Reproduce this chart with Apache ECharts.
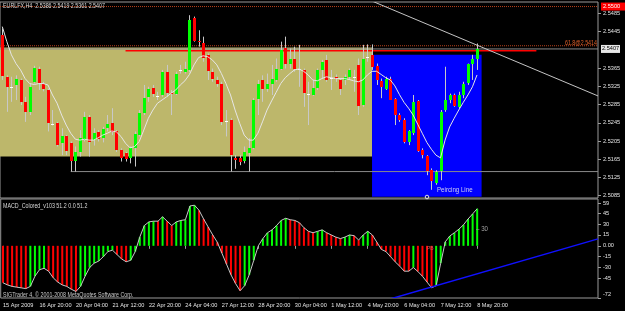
<!DOCTYPE html>
<html>
<head>
<meta charset="utf-8">
<script src="https://cdn.jsdelivr.net/npm/echarts@6/dist/echarts.min.js"></script>
<style>
  html, body { margin: 0; padding: 0; background: #000; }
  #chart { width: 625px; height: 311px; }
</style>
</head>
<body>
<div id="chart"></div>
<script>
// EURLFX H4, 15 Apr 2009 12:00 .. 8 May 2009 20:00, one entry per bar (105 bars)
const tickLabels = ['15 Apr 2009', '16 Apr 20:00', '20 Apr 04:00', '21 Apr 12:00', '22 Apr 20:00',
  '24 Apr 04:00', '27 Apr 12:00', '28 Apr 20:00', '30 Apr 04:00', '1 May 12:00', '4 May 20:00',
  '6 May 04:00', '7 May 12:00', '8 May 20:00'];
const priceTicks = [2.5485, 2.5445, 2.5365, 2.5325, 2.5285, 2.5245, 2.5205, 2.5165, 2.5125, 2.5085];
const macdTicks = [59, 45, 30, 15, 0, -15, -30, -45, -72];

const openP = [
  2.5437, 2.5346, 2.5324, 2.5328, 2.5339, 2.5291, 2.5269, 2.5335, 2.5362, 2.5331,
  2.5317, 2.5243, 2.5244, 2.5200, 2.5215, 2.5200, 2.5160, 2.5181, 2.5207, 2.5258,
  2.5207, 2.5224, 2.5212, 2.5233, 2.5245, 2.5226, 2.5185, 2.5178, 2.5167, 2.5189,
  2.5218, 2.5266, 2.5301, 2.5322, 2.5304, 2.5306, 2.5356, 2.5311, 2.5310, 2.5360,
  2.5357, 2.5361, 2.5475, 2.5424, 2.5421, 2.5394, 2.5357, 2.5339, 2.5331, 2.5250,
  2.5251, 2.5168, 2.5167, 2.5160, 2.5180, 2.5189, 2.5299, 2.5339, 2.5320, 2.5329,
  2.5339, 2.5364, 2.5408, 2.5375, 2.5386, 2.5362, 2.5361, 2.5309, 2.5307, 2.5322,
  2.5361, 2.5383, 2.5344, 2.5346, 2.5339, 2.5339, 2.5346, 2.5346, 2.5372, 2.5284,
  2.5389, 2.5394, 2.5370, 2.5337, 2.5320, 2.5342, 2.5297, 2.5263, 2.5251, 2.5202,
  2.5222, 2.5293, 2.5185, 2.5173, 2.5141, 2.5114, 2.5139, 2.5273, 2.5295, 2.5306,
  2.5280, 2.5306, 2.5331, 2.5373, 2.5386];
const closeP = [
  2.5346, 2.5324, 2.5324, 2.5342, 2.5291, 2.5269, 2.5324, 2.5366, 2.5331, 2.5320,
  2.5244, 2.5243, 2.5196, 2.5215, 2.5181, 2.5160, 2.5180, 2.5211, 2.5258, 2.5204,
  2.5222, 2.5209, 2.5231, 2.5242, 2.5226, 2.5185, 2.5167, 2.5165, 2.5189, 2.5220,
  2.5266, 2.5299, 2.5319, 2.5308, 2.5304, 2.5357, 2.5310, 2.5308, 2.5353, 2.5360,
  2.5363, 2.5470, 2.5424, 2.5421, 2.5388, 2.5358, 2.5341, 2.5331, 2.5247, 2.5250,
  2.5174, 2.5163, 2.5158, 2.5180, 2.5190, 2.5295, 2.5331, 2.5320, 2.5330, 2.5340,
  2.5364, 2.5405, 2.5372, 2.5386, 2.5363, 2.5362, 2.5310, 2.5309, 2.5322, 2.5361,
  2.5379, 2.5339, 2.5344, 2.5341, 2.5319, 2.5346, 2.5361, 2.5346, 2.5282, 2.5386,
  2.5389, 2.5368, 2.5339, 2.5324, 2.5342, 2.5297, 2.5262, 2.5251, 2.5202, 2.5226,
  2.5291, 2.5183, 2.5173, 2.5141, 2.5116, 2.5138, 2.5269, 2.5295, 2.5306, 2.5282,
  2.5307, 2.5331, 2.5373, 2.5385, 2.5407];
const highP = [
  2.5452, 2.5349, 2.5346, 2.5349, 2.5342, 2.5302, 2.5331, 2.5370, 2.5368, 2.5335,
  2.5320, 2.5273, 2.5247, 2.5233, 2.5218, 2.5204, 2.5193, 2.5229, 2.5269, 2.5262,
  2.5233, 2.5229, 2.5236, 2.5262, 2.5277, 2.5229, 2.5189, 2.5181, 2.5193, 2.5226,
  2.5273, 2.5328, 2.5324, 2.5328, 2.5313, 2.5361, 2.5372, 2.5317, 2.5357, 2.5372,
  2.5379, 2.5481, 2.5478, 2.5448, 2.5434, 2.5397, 2.5364, 2.5346, 2.5335, 2.5273,
  2.5255, 2.5174, 2.5174, 2.5193, 2.5211, 2.5299, 2.5339, 2.5349, 2.5353, 2.5372,
  2.5386, 2.5423, 2.5434, 2.5408, 2.5412, 2.5416, 2.5364, 2.5335, 2.5339, 2.5364,
  2.5383, 2.5394, 2.5361, 2.5351, 2.5342, 2.5351, 2.5364, 2.5361, 2.5386, 2.5416,
  2.5417, 2.5417, 2.5375, 2.5342, 2.5346, 2.5346, 2.5299, 2.5266, 2.5255, 2.5229,
  2.5306, 2.5295, 2.5189, 2.5174, 2.5145, 2.5141, 2.5273, 2.5368, 2.5309, 2.5309,
  2.5313, 2.5335, 2.5375, 2.5394, 2.5419];
const lowP = [
  2.5339, 2.5269, 2.5291, 2.5295, 2.5284, 2.5247, 2.5262, 2.5331, 2.5317, 2.5314,
  2.5226, 2.5239, 2.5193, 2.5174, 2.5174, 2.5138, 2.5138, 2.5171, 2.5204, 2.5171,
  2.5195, 2.5204, 2.5202, 2.5226, 2.5218, 2.5181, 2.5160, 2.5160, 2.5156, 2.5149,
  2.5215, 2.5262, 2.5291, 2.5302, 2.5295, 2.5302, 2.5302, 2.5262, 2.5306, 2.5353,
  2.5353, 2.5356, 2.5423, 2.5412, 2.5379, 2.5339, 2.5335, 2.5324, 2.5240, 2.5215,
  2.5138, 2.5144, 2.5152, 2.5156, 2.5138, 2.5187, 2.5262, 2.5291, 2.5313, 2.5306,
  2.5335, 2.5361, 2.5364, 2.5364, 2.5357, 2.5324, 2.5280, 2.5240, 2.5304, 2.5317,
  2.5342, 2.5335, 2.5317, 2.5335, 2.5306, 2.5328, 2.5339, 2.5313, 2.5262, 2.5280,
  2.5379, 2.5361, 2.5328, 2.5299, 2.5317, 2.5295, 2.5240, 2.5247, 2.5200, 2.5196,
  2.5218, 2.5181, 2.5167, 2.5130, 2.5098, 2.5109, 2.5119, 2.5269, 2.5288, 2.5280,
  2.5277, 2.5299, 2.5328, 2.5339, 2.5361];
const ma = [
  2.5456, 2.5423, 2.5394, 2.5375, 2.5361, 2.5342, 2.5331, 2.5329, 2.5331, 2.5331,
  2.5328, 2.5306, 2.5288, 2.5262, 2.5240, 2.5222, 2.5209, 2.5207, 2.5209, 2.5207,
  2.5207, 2.5212, 2.5218, 2.5222, 2.5227, 2.5225, 2.5215, 2.5200, 2.5190, 2.5193,
  2.5204, 2.5229, 2.5255, 2.5273, 2.5288, 2.5295, 2.5302, 2.5310, 2.5317, 2.5328,
  2.5337, 2.5351, 2.5372, 2.5388, 2.5392, 2.5390, 2.5383, 2.5372, 2.5353, 2.5331,
  2.5306, 2.5273, 2.5244, 2.5218, 2.5207, 2.5207, 2.5222, 2.5247, 2.5273, 2.5293,
  2.5312, 2.5331, 2.5344, 2.5353, 2.5361, 2.5363, 2.5358, 2.5350, 2.5339, 2.5337,
  2.5342, 2.5346, 2.5344, 2.5342, 2.5342, 2.5342, 2.5340, 2.5337, 2.5335, 2.5339,
  2.5350, 2.5358, 2.5358, 2.5351, 2.5344, 2.5339, 2.5326, 2.5307, 2.5290, 2.5277,
  2.5262, 2.5242, 2.5222, 2.5202, 2.5187, 2.5174, 2.5168, 2.5207, 2.5236, 2.5255,
  2.5273, 2.5290, 2.5306, 2.5324, 2.5350];
const macd = [
  -51, -54, -56, -57, -58, -59, -56, -42, -33, -31,
  -35, -44, -50, -54, -56, -60, -63, -56, -42, -30,
  -24, -21, -15, -8, -6, -12, -18, -22, -20, -8,
  12, 28, 33, 34, 34, 40, 34, 28, 33, 35,
  36, 55, 56, 49, 37, 26, 15, 5, -10, -25,
  -40, -52, -62, -55, -40, -20, 0, 10, 18, 22,
  28, 35, 38, 36, 35, 32, 25, 20, 18, 20,
  22, 18, 15, 12, 10, 12, 15, 14, 8, 15,
  20, 15, 5, -5, -8, -15, -22, -28, -35, -35,
  -30, -35.5, -42, -50, -58, -55, -24, 5.5, 13.6, 18,
  23, 29, 37, 44, 51.2];

// zones: [fromBar, toBar, topPrice, bottomPrice]
const rangeZone = [0, 81, 2.5410, 2.5171];
const patternZone = [81, 105, 2.5394, 2.5083];
// lines: [bar1, value1, bar2, value2, extendLeft, extendRight]
const dottedLevels = [[0, 2.5500, 130, 2.5500, 1, 1], [0, 2.5414, 130, 2.5414, 1, 1]];
const bidLine = [[0, 2.5407, 130, 2.5407, 1, 1]];
const resistLine = [[27, 2.5403, 117, 2.5403, 0, 0]];
const supportLine = [[15, 2.5138, 130, 2.5138, 0, 1]];
const trendLine = [[81, 2.5512, 130, 2.5306, 0, 1]];
const macdTrend = [[84, -75, 130, 8.7, 0, 1]];

const SLOTS = 131;
const slots = Array.from({length: SLOTS}, (_, i) => String(i));
const FONT = '"Liberation Sans", Arial, sans-serif';
const TXT = '#e4e4e4';
const AXIS_FS = 5.6;

function renderCandle(params, api) {
    const i = api.value(0);
    const o = api.value(1), c = api.value(2);
    const pO = api.coord([i, o]), pC = api.coord([i, c]);
    const pL = api.coord([i, api.value(3)]), pH = api.coord([i, api.value(4)]);
    const x = Math.round(pO[0]) + 0.5;
    const top = Math.min(pO[1], pC[1]);
    const bot = Math.max(pO[1], pC[1]);
    const fill = c > o ? '#00ff00' : (c < o ? '#ff0000' : '#ffffff');
    return {
        type: 'group',
        children: [
            {type: 'line', shape: {x1: x, y1: pH[1], x2: x, y2: pL[1]}, style: {stroke: '#c8c8c8', lineWidth: 1}},
            {type: 'rect', shape: {x: x - 1.5, y: Math.round(top), width: 3, height: Math.max(Math.round(bot - top), 1)}, style: {fill: fill}}
        ]
    };
}

function zoneSeries(zone, color) {
    return {
        type: 'custom', xAxisIndex: 0, yAxisIndex: 0, z: 1, silent: true, clip: true,
        data: [zone],
        encode: {x: [0, 1], y: [2, 3]},
        renderItem: function (params, api) {
            const a = api.coord([api.value(0), api.value(2)]);
            const b = api.coord([api.value(1), api.value(3)]);
            const x0 = api.value(0) === 0 ? params.coordSys.x : a[0];
            return {type: 'rect', shape: {x: x0, y: a[1], width: b[0] - x0, height: b[1] - a[1]}, style: {fill: color}};
        }
    };
}

function lineSeries(data, gridIdx, style, z) {
    return {
        type: 'custom', xAxisIndex: gridIdx, yAxisIndex: gridIdx, z: z, silent: true, clip: true,
        data: data,
        encode: {x: [0, 2], y: [1, 3]},
        renderItem: function (params, api) {
            const half = api.size([1, 0])[0] / 2;
            let a = api.coord([api.value(0), api.value(1)]);
            let b = api.coord([api.value(2), api.value(3)]);
            const k = (b[1] - a[1]) / (b[0] - a[0]);
            if (api.value(4)) a = [a[0] - half, a[1] - k * half];
            if (api.value(5)) b = [b[0] + half, b[1] + k * half];
            return {type: 'line', shape: {x1: a[0], y1: a[1], x2: b[0], y2: b[1]}, style: style};
        }
    };
}

const labelEvery8 = (index) => index % 8 === 0 && index / 8 < tickLabels.length;

const chart = echarts.init(document.getElementById('chart'));
chart.setOption({
    animation: false,
    backgroundColor: '#000000',
    grid: [
        {left: 0, right: 27, top: 2, height: 196, show: true, borderColor: '#9a9a9a', borderWidth: 1, backgroundColor: 'transparent'},
        {left: 0, right: 27, top: 199, height: 99, show: true, borderColor: '#9a9a9a', borderWidth: 1, backgroundColor: 'transparent'}
    ],
    xAxis: [
        {gridIndex: 0, type: 'category', data: slots, show: false},
        {
            gridIndex: 1, type: 'category', data: slots,
            axisLine: {show: false},
            axisTick: {show: true, interval: labelEvery8, alignWithLabel: true, length: 3, lineStyle: {color: '#9a9a9a'}},
            axisLabel: {
                interval: labelEvery8, align: 'left', margin: 4,
                formatter: (v, i) => tickLabels[i / 8],
                color: TXT, fontSize: AXIS_FS, fontFamily: FONT
            },
            splitLine: {show: false}
        }
    ],
    yAxis: [
        {
            gridIndex: 0, type: 'value', position: 'right', min: 2.5080, max: 2.5510,
            splitLine: {show: false}, axisLine: {show: false},
            axisTick: {show: true, customValues: priceTicks, length: 3, lineStyle: {color: '#9a9a9a'}},
            axisLabel: {customValues: priceTicks, formatter: v => v.toFixed(4), margin: 5, color: TXT, fontSize: AXIS_FS, fontFamily: FONT}
        },
        {
            gridIndex: 1, type: 'value', position: 'right', min: -72, max: 64.6,
            splitLine: {show: false}, axisLine: {show: false},
            axisTick: {show: true, customValues: macdTicks, length: 3, lineStyle: {color: '#9a9a9a'}},
            axisLabel: {
                customValues: macdTicks, margin: 5, color: TXT, fontSize: AXIS_FS, fontFamily: FONT,
                formatter: v => v === 0 ? '0.00' : (v === -72 ? '{lo|-72}' : String(v)),
                rich: {lo: {color: TXT, fontSize: AXIS_FS, fontFamily: FONT, padding: [0, 0, 8, 0]}}
            }
        }
    ],
    series: [
        zoneSeries(rangeZone, '#bdb76b'),
        zoneSeries(patternZone, '#0000ff'),
        lineSeries(dottedLevels, 0, {stroke: '#b8401a', lineWidth: 1, lineDash: [1, 1]}, 2),
        lineSeries(bidLine, 0, {stroke: '#8a8a8a', lineWidth: 1}, 2),
        lineSeries(supportLine, 0, {stroke: '#8a8a8a', lineWidth: 1}, 2),
        lineSeries(resistLine, 0, {stroke: '#ff0000', lineWidth: 1.5}, 2),
        {
            name: 'EURLFX,H4', type: 'custom', xAxisIndex: 0, yAxisIndex: 0, z: 3,
            data: openP.map((o, i) => [i, o, closeP[i], lowP[i], highP[i]]),
            encode: {x: 0, y: [1, 2, 3, 4]},
            renderItem: renderCandle
        },
        {
            name: 'MA', type: 'line', xAxisIndex: 0, yAxisIndex: 0, z: 4, data: ma,
            showSymbol: false, lineStyle: {color: '#e6e6e6', width: 1}
        },
        lineSeries(trendLine, 0, {stroke: '#c4c4c4', lineWidth: 1}, 5),
        {
            name: 'MACD', type: 'bar', xAxisIndex: 1, yAxisIndex: 1, barWidth: 2, z: 2,
            data: macd.map((v, i) => ({
                value: v,
                itemStyle: {color: i > 0 && v > macd[i - 1] ? '#00ff00' : '#ff0000'}
            }))
        },
        {
            name: 'MACD line', type: 'line', xAxisIndex: 1, yAxisIndex: 1, z: 3, data: macd,
            showSymbol: false, lineStyle: {color: '#c8c8c8', width: 1}
        },
        lineSeries(macdTrend, 1, {stroke: '#1010ff', lineWidth: 1.5}, 4)
    ]
});

// labels attached to price levels on the right axis
const yAlert = chart.convertToPixel({yAxisIndex: 0}, 2.5500);
const yBid = chart.convertToPixel({yAxisIndex: 0}, 2.5407);
const yFib = chart.convertToPixel({yAxisIndex: 0}, 2.5414);
function txt(id, x, y, text, fill, size, align) {
    return {
        id: id, type: 'text', x: x, y: y, z: 100, scaleX: 0.82,
        style: {text: text, fill: fill, fontSize: size || 6.5, fontFamily: FONT, verticalAlign: 'middle', align: align || 'left'}
    };
}

chart.setOption({
    graphic: [
        txt('title', 3, 6, 'EURLFX,H4  2.5386 2.5419 2.5361 2.5407', '#d8d8d8'),
        txt('macdTitle', 3, 206, 'MACD_Colored_v103 51.2 0.0 51.2', '#d8d8d8'),
        txt('copy', 3, 295, 'SIGTrader 4, \u00a9 2001-2008 MetaQuotes Software Corp.', '#c8c8c8'),
        txt('pattern', 437, 190, 'Peircing Line', '#d0d0f0', 7.5),
        txt('fib', 597, yFib - 3, '61.8@2.5414', '#e0602a', 6.5, 'right'),
        txt('lvl30', 476, 229, '\u2013 30', '#a0a0a0', 7.5),
        txt('pb', 427, 248, 'PB', '#d06060', 6),
        {id: 'alertBox', type: 'rect', z: 99, shape: {x: 601, y: yAlert - 4, width: 24, height: 8}, style: {fill: '#ff0000'}},
        {id: 'alertTxt', type: 'text', x: 603, y: yAlert, z: 100,
            style: {text: '2.5500', fill: '#ffffff', fontSize: AXIS_FS, fontFamily: FONT, verticalAlign: 'middle'}},
        {id: 'bidBox', type: 'rect', z: 99, shape: {x: 601, y: yBid - 4, width: 19, height: 8}, style: {fill: '#e8e8e8'}},
        {id: 'bidTxt', type: 'text', x: 602, y: yBid, z: 100,
            style: {text: '2.5407', fill: '#000000', fontSize: AXIS_FS, fontFamily: FONT, verticalAlign: 'middle'}},
        {id: 'arrow', type: 'circle', z: 99, shape: {cx: 427, cy: 197, r: 1.8}, style: {fill: 'none', stroke: '#e0e0e0', lineWidth: 1}}
    ]
});
</script>
</body>
</html>
